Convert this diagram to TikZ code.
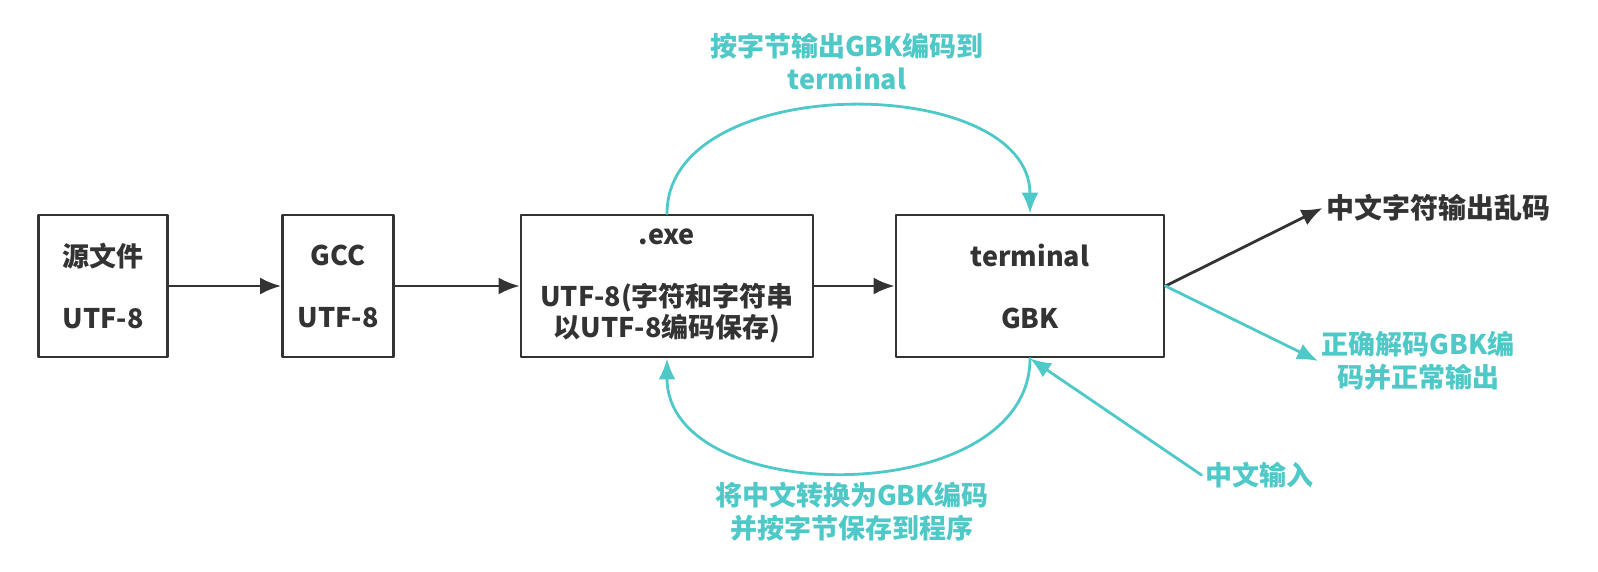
\documentclass[tikz,border=0pt]{standalone}
\usepackage{fontspec}
\setmainfont{Noto Sans CJK SC}
\usetikzlibrary{arrows.meta}
\definecolor{dark}{HTML}{333333}
\definecolor{cyanish}{HTML}{4FC8C8}

\begin{document}
\begin{tikzpicture}[x=1pt,y=-1pt,line cap=round,line join=round,>={Latex[length=21pt,width=17pt]},
    font=\bfseries\fontsize{27}{31}\selectfont,
    box/.style={draw=dark,line width=2.8pt,text=dark,align=center,minimum height=142pt,inner sep=0pt},
    blk/.style={->,draw=dark,line width=2.8pt},
    cyn/.style={->,draw=cyanish,line width=2.8pt},
    note/.style={text=cyanish,align=center,font=\bfseries\fontsize{27}{33}\selectfont}]
    \useasboundingbox (0,0) rectangle (1598,571);
    \node[box,minimum width=129pt] (src) at (103,286) {源文件\\[31pt]UTF-8};
    \node[box,minimum width=111pt] (gcc) at (338,286) {GCC\\[31pt]UTF-8};
    \node[box,minimum width=292pt] (exe) at (667,286) {.exe\\[31pt]UTF-8(字符和字符串\\以UTF-8编码保存)};
    \node[box,minimum width=268pt] (term) at (1030,286) {terminal\\[31pt]GBK};
    \node[note] (send) at (847,62) {按字节输出GBK编码到\\terminal};
    \node[note] (save) at (852,512) {将中文转换为GBK编码\\并按字节保存到程序};
    \node[note] (ok) at (1418,361) {正确解码GBK编\\码并正常输出};
    \node[note] (zin) at (1259,475) {中文输入};
    \node[text=dark,font=\bfseries\fontsize{28}{33}\selectfont] (garble) at (1438,208) {中文字符输出乱码};
    \draw[blk] (src) -- (gcc);
    \draw[blk] (gcc) -- (exe);
    \draw[blk] (exe) -- (term);
    \draw[blk] (term.east) -- (garble.west);
    \draw[cyn] (term.east) -- (ok.west);
    \draw[cyn] (zin.west) -- (term.south);
    \draw[cyn] (exe.north) .. controls (667,70) and (1030,72) .. (term.north);
    \draw[cyn] (term.south) .. controls (1030,510) and (667,510) .. (exe.south);
\end{tikzpicture}
\end{document}
